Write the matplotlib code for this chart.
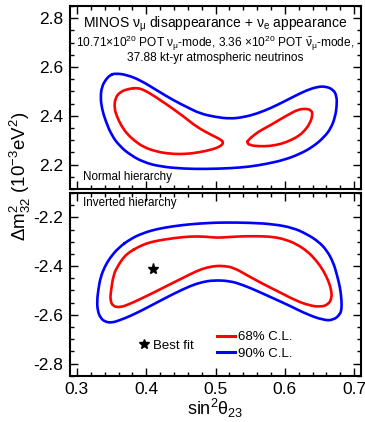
import matplotlib
matplotlib.use("Agg")
import matplotlib.pyplot as plt
import numpy as np
from matplotlib.path import Path
from matplotlib.patches import PathPatch
from matplotlib.lines import Line2D
from matplotlib.ticker import MultipleLocator

plt.rcParams['font.family'] = ['Liberation Sans', 'DejaVu Sans']
plt.rcParams['mathtext.fontset'] = 'custom'
plt.rcParams['mathtext.rm'] = 'Liberation Sans'
plt.rcParams['mathtext.it'] = 'Liberation Sans:italic'
plt.rcParams['mathtext.default'] = 'regular'
plt.rcParams['axes.unicode_minus'] = False

# ---------------- data ----------------
# Normal hierarchy, 90% C.L.
nh90_x = [0.355, 0.372, 0.392, 0.415, 0.439, 0.460, 0.478, 0.500, 0.521, 0.540, 0.560, 0.580, 0.598, 0.615,
          0.632, 0.646, 0.658, 0.670, 0.675, 0.675, 0.673, 0.667, 0.656, 0.640, 0.622, 0.600, 0.574, 0.548,
          0.521, 0.487, 0.454, 0.420, 0.396, 0.377, 0.362, 0.350, 0.341, 0.336, 0.334, 0.336, 0.342, 0.348]
nh90_y = [2.574, 2.568, 2.545, 2.505, 2.464, 2.434, 2.409, 2.395, 2.388, 2.394, 2.409, 2.432, 2.457, 2.482,
          2.505, 2.518, 2.521, 2.508, 2.480, 2.440, 2.400, 2.350, 2.310, 2.272, 2.244, 2.220, 2.203, 2.191,
          2.185, 2.182, 2.183, 2.192, 2.210, 2.240, 2.275, 2.320, 2.382, 2.430, 2.477, 2.520, 2.550, 2.567]
# Normal hierarchy, 68% C.L. (two islands)
nh68a_x = [0.377, 0.363, 0.355, 0.354, 0.358, 0.364, 0.372, 0.383, 0.396, 0.415, 0.435, 0.457, 0.478, 0.495,
           0.506, 0.512, 0.508, 0.495, 0.473, 0.455, 0.435, 0.420, 0.406, 0.395, 0.387]
nh68a_y = [2.512, 2.500, 2.472, 2.430, 2.395, 2.360, 2.327, 2.298, 2.272, 2.253, 2.244, 2.243, 2.251, 2.262,
           2.273, 2.289, 2.302, 2.320, 2.354, 2.395, 2.436, 2.465, 2.491, 2.508, 2.514]
nh68b_x = [0.545, 0.550, 0.563, 0.579, 0.595, 0.608, 0.620, 0.629, 0.636, 0.640, 0.639, 0.629, 0.618, 0.608,
           0.593, 0.579, 0.565, 0.555, 0.548]
nh68b_y = [2.290, 2.279, 2.275, 2.276, 2.285, 2.299, 2.317, 2.340, 2.368, 2.400, 2.423, 2.430, 2.424, 2.409,
           2.385, 2.361, 2.340, 2.320, 2.302]
# Inverted hierarchy, 90% C.L.
ih90_x = [0.377, 0.395, 0.415, 0.440, 0.464, 0.490, 0.512, 0.550, 0.584, 0.612, 0.632, 0.649, 0.661, 0.670,
          0.675, 0.680, 0.682, 0.682, 0.680, 0.670, 0.656, 0.632, 0.608, 0.584, 0.560, 0.540, 0.521, 0.497,
          0.480, 0.464, 0.440, 0.415, 0.395, 0.377, 0.362, 0.350, 0.340, 0.334, 0.330, 0.329, 0.331, 0.334,
          0.340, 0.348, 0.360]
ih90_y = [-2.289, -2.265, -2.248, -2.236, -2.228, -2.223, -2.221, -2.222, -2.228, -2.243, -2.269, -2.300,
          -2.337, -2.385, -2.433, -2.490, -2.543, -2.575, -2.598, -2.622, -2.622, -2.598, -2.564, -2.533,
          -2.502, -2.478, -2.461, -2.458, -2.466, -2.481, -2.513, -2.550, -2.580, -2.605, -2.622, -2.633,
          -2.628, -2.612, -2.585, -2.543, -2.495, -2.447, -2.403, -2.365, -2.325]
# Inverted hierarchy, 68% C.L.
ih68_x = [0.387, 0.400, 0.415, 0.440, 0.464, 0.485, 0.502, 0.518, 0.536, 0.560, 0.584, 0.602, 0.617, 0.633,
          0.646, 0.656, 0.663, 0.667, 0.668, 0.663, 0.651, 0.635, 0.617, 0.593, 0.569, 0.547, 0.526, 0.513,
          0.502, 0.488, 0.473, 0.452, 0.430, 0.410, 0.391, 0.375, 0.362, 0.352, 0.348, 0.349, 0.353, 0.359,
          0.367, 0.376]
ih68_y = [-2.324, -2.307, -2.296, -2.285, -2.278, -2.279, -2.284, -2.281, -2.278, -2.277, -2.280, -2.292,
          -2.310, -2.340, -2.379, -2.420, -2.461, -2.497, -2.529, -2.558, -2.568, -2.561, -2.543, -2.508,
          -2.474, -2.440, -2.406, -2.400, -2.399, -2.405, -2.420, -2.450, -2.481, -2.510, -2.536, -2.557,
          -2.570, -2.565, -2.540, -2.502, -2.433, -2.400, -2.365, -2.342]
# Best fit (inverted hierarchy)
bf_x = [0.41]
bf_y = [-2.41]

legend_labels = ["68% C.L.", "90% C.L.", "Best fit"]
line_colors = ["#ff0000", "#0000ff"]

# ---------------- drawing ----------------
def closed_smooth(ax, xs, ys, color):
    P = np.column_stack([xs, ys])
    n = len(P)
    M = (P + np.roll(P, -1, axis=0)) / 2.0
    verts = [M[-1]]
    codes = [Path.MOVETO]
    for i in range(n):
        verts += [P[i], M[i]]
        codes += [Path.CURVE3, Path.CURVE3]
    patch = PathPatch(Path(verts, codes), facecolor='none', edgecolor=color, lw=1.9,
                      joinstyle='round', capstyle='round', zorder=3)
    ax.add_patch(patch)

fig = plt.figure(figsize=(3.65, 4.22), dpi=100)
W, H = 365.0, 422.0
ax1 = fig.add_axes([70 / W, (H - 189) / H, 291 / W, 183 / H])
ax2 = fig.add_axes([70 / W, (H - 375.7) / H, 291 / W, 182.7 / H])

for ax in (ax1, ax2):
    ax.set_xlim(0.29, 0.71)
    ax.xaxis.set_major_locator(MultipleLocator(0.1))
    ax.xaxis.set_minor_locator(MultipleLocator(0.02))
    ax.yaxis.set_major_locator(MultipleLocator(0.2))
    ax.yaxis.set_minor_locator(MultipleLocator(0.05))
    ax.tick_params(which='both', direction='in', top=True, right=True, width=1.0, labelsize=12.5)
    ax.tick_params(which='major', length=6)
    ax.tick_params(which='minor', length=3)
    ax.tick_params(axis='y', pad=5)
    ax.tick_params(axis='x', pad=4.5)
    for s in ax.spines.values():
        s.set_linewidth(1.5)

ax1.set_ylim(2.1, 2.85)
ax2.set_ylim(-2.85, -2.1)
ax1.tick_params(labelbottom=False)

closed_smooth(ax1, nh90_x, nh90_y, line_colors[1])
closed_smooth(ax1, nh68a_x, nh68a_y, line_colors[0])
closed_smooth(ax1, nh68b_x, nh68b_y, line_colors[0])
closed_smooth(ax2, ih90_x, ih90_y, line_colors[1])
closed_smooth(ax2, ih68_x, ih68_y, line_colors[0])
ax2.plot(bf_x, bf_y, ls='none', marker='*', color='k', ms=8, zorder=4)

ax1.text(0.5, 0.90, r"MINOS $\nu_{\mu}$ disappearance + $\nu_{e}$ appearance",
         transform=ax1.transAxes, ha='center', va='center', fontsize=10)
ax1.text(0.5, 0.795, r"10.71$\times$10$^{20}$ POT $\nu_{\mu}$-mode, 3.36 $\times$10$^{20}$ POT $\bar{\nu}_{\mu}$-mode,",
         transform=ax1.transAxes, ha='center', va='center', fontsize=8.6)
ax1.text(0.5, 0.715, "37.88 kt-yr atmospheric neutrinos",
         transform=ax1.transAxes, ha='center', va='center', fontsize=8.6)
ax1.text(0.045, 0.066, "Normal hierarchy", transform=ax1.transAxes, ha='left', va='center', fontsize=8.4)
ax2.text(0.045, 0.945, "Inverted hierarchy", transform=ax2.transAxes, ha='left', va='center', fontsize=8.4)

h1 = [Line2D([], [], color=line_colors[0], lw=2.2), Line2D([], [], color=line_colors[1], lw=2.2)]
leg1 = ax2.legend(h1, legend_labels[:2], loc='upper left', bbox_to_anchor=(0.505, 0.245),
                  frameon=False, fontsize=9.5, handlelength=1.35, handletextpad=0.25,
                  labelspacing=0.35, borderpad=0, borderaxespad=0)
ax2.add_artist(leg1)
h2 = [Line2D([], [], ls='none', marker='*', color='k', ms=7.5)]
ax2.legend(h2, legend_labels[2:], loc='center left', bbox_to_anchor=(0.235, 0.163),
           frameon=False, fontsize=9.5, handlelength=0.8, handletextpad=0.3,
           borderpad=0, borderaxespad=0)

fig.text(215 / W, 1 - 408 / H, r"sin$^{2}\theta_{23}$", ha='center', va='center', fontsize=13)
fig.text(20 / W, 1 - 176 / H, r"$\Delta m^{2}_{32}$ (10$^{-3}$eV$^{2}$)", ha='center', va='center',
         rotation=90, fontsize=13.5)

fig.savefig("out.png", dpi=100)
